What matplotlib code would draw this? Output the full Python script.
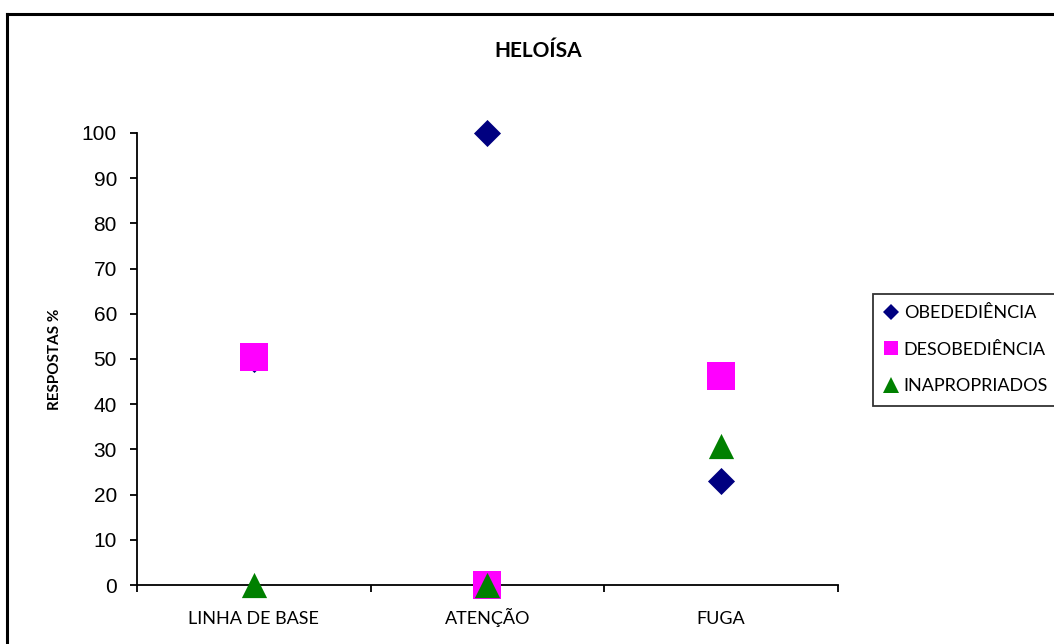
import matplotlib.pyplot as plt
from matplotlib.lines import Line2D
import numpy as np

categorias = ['LINHA DE BASE', 'ATENÇÃO', 'FUGA']
obediencia = [50, 100, 23.08]
desobediencia = [50.5, 0, 46.15]
inapropriados = [0, 0, 30.77]
series = ['OBEDEDIÊNCIA', 'DESOBEDIÊNCIA', 'INAPROPRIADOS']
yticks = list(range(0, 101, 10))

txt_font = ['Lato', 'DejaVu Sans']
num_font = ['Liberation Sans', 'DejaVu Sans']

fig = plt.figure(figsize=(10.54, 6.44), dpi=100)
ax = fig.add_axes([0.130, 0.0916, 0.665, 0.7019])

x = np.arange(len(categorias)) + 0.5
ax.scatter(x, obediencia, marker='D', s=190, color='#000080', zorder=3, clip_on=False, linewidths=0)
ax.scatter(x, desobediencia, marker='s', s=400, color='#FF00FF', zorder=4, clip_on=False, linewidths=0)
ax.scatter(x, inapropriados, marker='^', s=330, color='#008000', zorder=5, clip_on=False, linewidths=0)

ax.set_xlim(0, 3)
ax.set_ylim(0, 100)
ax.set_xticks([0, 1, 2, 3])
ax.set_xticklabels([])
ax.set_xticks(x, minor=True)
ax.set_xticklabels(categorias, minor=True, fontfamily=txt_font, fontsize=13, va='baseline')
ax.tick_params(axis='x', which='minor', length=0, pad=28.4)
ax.tick_params(axis='x', which='major', length=5, width=1.3, direction='out')
ax.set_yticks(yticks)
ax.set_yticklabels([str(v) for v in yticks], fontfamily=num_font, fontsize=15)
ax.tick_params(axis='y', length=5, width=1.3, direction='out', pad=9.5)

for side in ['top', 'right']:
    ax.spines[side].set_visible(False)
for side in ['left', 'bottom']:
    ax.spines[side].set_linewidth(1.3)

ax.set_ylabel('RESPOSTAS %', fontfamily=txt_font, fontsize=11, fontweight='bold', labelpad=14)
fig.text(0.5105, 0.9115, 'HELOÍSA', ha='center', va='baseline', fontfamily=txt_font,
         fontsize=15, fontweight='bold')

handles = [
    Line2D([], [], linestyle='none', marker='D', markersize=8, color='#000080', markeredgewidth=0),
    Line2D([], [], linestyle='none', marker='s', markersize=10, color='#FF00FF', markeredgewidth=0),
    Line2D([], [], linestyle='none', marker='^', markersize=11, color='#008000', markeredgewidth=0),
]
leg = fig.legend(handles, series, loc='upper left', bbox_to_anchor=(0.828, 0.5435),
                 prop={'family': txt_font, 'size': 13}, frameon=True, fancybox=False,
                 handlelength=0.8, handletextpad=0.3, labelspacing=1.14, borderpad=0.62,
                 borderaxespad=0)
leg.get_frame().set_edgecolor('black')
leg.get_frame().set_linewidth(1.3)

# outer chart border
fig.add_artist(Line2D([0.0066, 0.0066], [0, 0.978], transform=fig.transFigure,
                      color='black', linewidth=2.2))
fig.add_artist(Line2D([0.0066, 1.0], [0.978, 0.978], transform=fig.transFigure,
                      color='black', linewidth=2.2))

fig.savefig('out.png', dpi=100)
